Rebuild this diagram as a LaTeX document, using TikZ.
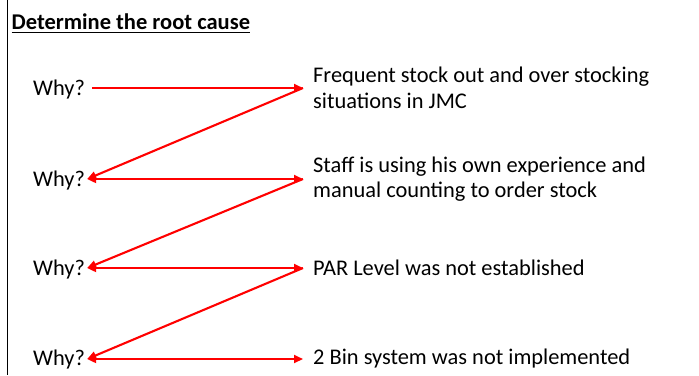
\documentclass[tikz,border=0pt]{standalone}
\usepackage{fontspec}
\setmainfont{Carlito}
\usetikzlibrary{positioning,arrows.meta}
\tikzset{
    >={Triangle[length=9pt,width=8pt]},
    why/.style = {font=\fontsize{22.4}{25}\selectfont, inner xsep=2pt, inner ysep=0pt, anchor=west},
    cause/.style = {font=\fontsize{22.4}{25.5}\selectfont, align=left, inner xsep=10pt, inner ysep=0pt, anchor=west},
    link/.style = {red, line width=2.1pt},
}

\begin{document}
\begin{tikzpicture}[x=1pt,y=1pt]
    \useasboundingbox (0,0) rectangle (699,-375);
    \draw [line width=1pt] (7,0) -- (7,-375);

    \node (title) [anchor=base west, inner sep=0pt, font=\fontsize{22.5}{26}\selectfont\bfseries] at (11.5,-29) {Determine the root cause};
    \draw [line width=1.2pt] ([yshift=-3.5pt]title.south west) -- ([yshift=-3.5pt]title.south east);

    \foreach \y [count=\i] in {90,181,270,360}
        \node (w\i) [why] at (31,-\y) {Why?};

    \node (c1) [cause] at (303,-88) {Frequent stock out and over stocking\\situations in JMC};
    \node (c2) [cause] at (303,-179) {Staff is using his own experience and\\manual counting to order stock};
    \node (c3) [cause] at (303,-268) {PAR Level was not established};
    \node (c4) [cause] at (303,-359) {2 Bin system was not implemented};

    \draw [link, ->, shorten <=5pt] (w1.east |- c1.west) -- (c1.west);
    \foreach \a/\b in {1/2,2/3,3/4} {
        \draw [link, ->] (c\a.west) -- (w\b.east |- c\b.west);
        \draw [link, <->] (w\b.east |- c\b.west) -- (c\b.west);
    }
\end{tikzpicture}
\end{document}
